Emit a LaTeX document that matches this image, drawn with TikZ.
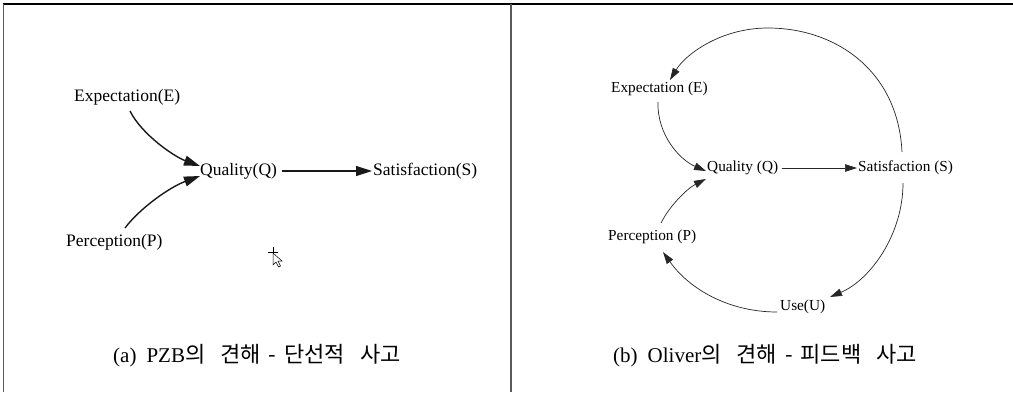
\documentclass[tikz,border=0pt]{standalone}
\usepackage{fontspec}
\setmainfont{Liberation Serif}
\newfontfamily\kr{Noto Sans CJK KR}
\newcommand{\krt}[1]{{\kr\fontsize{22}{25}\selectfont #1}}
\usetikzlibrary{arrows.meta}
\begin{document}
\begin{tikzpicture}[x=1pt,y=-1pt,
  lbl/.style={inner sep=0pt, anchor=west, font=\fontsize{17.5}{20}\selectfont},
  rlbl/.style={inner sep=0pt, anchor=west, font=\fontsize{15.3}{18}\selectfont},
  larr/.style={line width=1.4pt, draw=black!90, -{Triangle[length=16pt,width=10pt]}},
  rarr/.style={line width=0.7pt, draw=black!85, -{Triangle[length=12pt,width=7.5pt]}},
  captxt/.style={inner sep=0pt, anchor=west, font=\fontsize{21}{24}\selectfont},
  framel/.style={line width=1.5pt, draw=black},
  divl/.style={line width=1.8pt, draw=black!65}]
\useasboundingbox (0,0) rectangle (1013,392);
% frame
\draw[framel] (3,4) -- (1013,4);
\draw[divl] (3.5,4) -- (3.5,392);
\draw[divl] (511,4) -- (511,392);
% left panel
\node[lbl] (LE) at (74,97) {Expectation(E)};
\node[lbl] (LQ) at (200,171) {Quality(Q)};
\node[lbl] (LS) at (373,171) {Satisfaction(S)};
\node[lbl] (LP) at (66,242) {Perception(P)};
\draw[larr] ([shift={(56,14)}]LE.west) .. controls (142,135) and (175,157) .. ([shift={(0,-5)}]LQ.west);
\draw[larr] ([shift={(59,-14)}]LP.west) .. controls (140,208) and (170,187) .. ([shift={(0,5)}]LQ.west);
\draw[larr] ([shift={(82,0)}]LQ.west) -- ([shift={(-1,0)}]LS.west);
% cursor
\draw[line width=0.6pt] (268,252) -- (278,252) (273,247) -- (273,257);
\draw[line width=0.5pt, fill=white] (273,253) -- (273,265) -- (276,262) -- (278.5,267) -- (280.5,266) -- (278,261) -- (282,261) -- cycle;
\node[captxt] (CA) at (113,356) {(a)\hspace{10pt}PZB\krt{의}\hspace{15pt}\krt{견해}\hspace{8pt}\krt{-}\hspace{8pt}\krt{단선적}\hspace{15pt}\krt{사고}};
% right panel
\node[rlbl] (RE) at (611,89) {Expectation (E)};
\node[rlbl] (RQ) at (707,168) {Quality (Q)};
\node[rlbl] (RS) at (858,168) {Satisfaction (S)};
\node[rlbl] (RP) at (608,237) {Perception (P)};
\node[rlbl] (RU) at (780,307) {Use(U)};
\draw[rarr] ([shift={(44,-16)}]RS.west) .. controls (898,70) and (835,28) .. (768,28) .. controls (720,28) and (685,55) .. ([shift={(59,-9)}]RE.west);
\draw[rarr] ([shift={(47,13)}]RE.west) .. controls (657,135) and (680,160) .. ([shift={(-1,3)}]RQ.west);
\draw[rarr] ([shift={(53,-14)}]RP.west) .. controls (670,205) and (688,188) .. ([shift={(-1,11)}]RQ.west);
\draw[rarr] ([shift={(75,0)}]RQ.west) -- ([shift={(-1,0)}]RS.west);
\draw[rarr] ([shift={(45,15)}]RS.west) .. controls (903,235) and (870,280) .. ([shift={(50,-10)}]RU.west);
\draw[rarr] ([shift={(-3,5)}]RU.west) .. controls (730,312) and (690,290) .. ([shift={(55,15)}]RP.west);
\node[captxt] (CB) at (613,356) {(b)\hspace{10pt}Oliver\krt{의}\hspace{15pt}\krt{견해}\hspace{8pt}\krt{-}\hspace{8pt}\krt{피드백}\hspace{15pt}\krt{사고}};
\end{tikzpicture}
\end{document}
